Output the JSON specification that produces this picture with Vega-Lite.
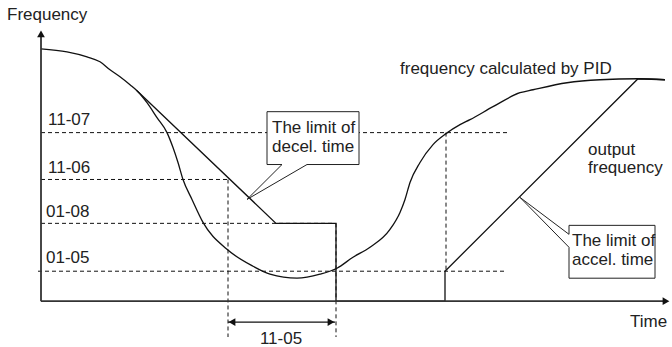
{
  "$schema": "https://vega.github.io/schema/vega-lite/v6.json",
  "width": 672,
  "height": 347,
  "autosize": {"type": "fit", "contains": "padding"},
  "padding": 0,
  "background": "white",
  "config": {"view": {"stroke": null}, "text": {"font": "Liberation Sans", "fontSize": 17, "color": "#222"}},
  "datasets": {
    "dashed": [
      {"t": 0, "f": 169, "t2": 467, "f2": 169},
      {"t": 0, "f": 122, "t2": 187, "f2": 122},
      {"t": 0, "f": 78, "t2": 294, "f2": 78},
      {"t": -3, "f": 30, "t2": 465, "f2": 30},
      {"t": 187, "f": 122, "t2": 187, "f2": -36},
      {"t": 295, "f": 78, "t2": 295, "f2": -36},
      {"t": 405, "f": 169, "t2": 405, "f2": 30}
    ],
    "pid": [
      {"i": 0, "t": 0, "f": 253}, {"i": 1, "t": 26, "f": 250}, {"i": 2, "t": 46, "f": 245},
      {"i": 3, "t": 59, "f": 240}, {"i": 4, "t": 69, "f": 232}, {"i": 5, "t": 79, "f": 225},
      {"i": 6, "t": 89, "f": 217}, {"i": 7, "t": 96, "f": 211}, {"i": 8, "t": 106, "f": 199},
      {"i": 9, "t": 116, "f": 184}, {"i": 10, "t": 126, "f": 169}, {"i": 11, "t": 132, "f": 154},
      {"i": 12, "t": 137, "f": 139}, {"i": 13, "t": 142, "f": 122}, {"i": 14, "t": 151, "f": 102},
      {"i": 15, "t": 162, "f": 79}, {"i": 16, "t": 186, "f": 52}, {"i": 17, "t": 212, "f": 35},
      {"i": 18, "t": 229, "f": 27}, {"i": 19, "t": 256, "f": 23}, {"i": 20, "t": 279, "f": 27},
      {"i": 21, "t": 296, "f": 33}, {"i": 22, "t": 312, "f": 44}, {"i": 23, "t": 329, "f": 54},
      {"i": 24, "t": 349, "f": 72}, {"i": 25, "t": 359, "f": 89}, {"i": 26, "t": 364, "f": 102},
      {"i": 27, "t": 369, "f": 119}, {"i": 28, "t": 379, "f": 139}, {"i": 29, "t": 392, "f": 157},
      {"i": 30, "t": 405, "f": 168}, {"i": 31, "t": 419, "f": 177}, {"i": 32, "t": 429, "f": 182},
      {"i": 33, "t": 452, "f": 195}, {"i": 34, "t": 479, "f": 209}, {"i": 35, "t": 492, "f": 212},
      {"i": 36, "t": 526, "f": 219}, {"i": 37, "t": 559, "f": 222}, {"i": 38, "t": 597, "f": 223},
      {"i": 39, "t": 624, "f": 222}
    ],
    "output": [
      {"i": 0, "t": 96, "f": 211}, {"i": 1, "t": 235, "f": 78}, {"i": 2, "t": 295, "f": 78},
      {"i": 3, "t": 295, "f": 0}, {"i": 4, "t": 404, "f": 0}, {"i": 5, "t": 404, "f": 30},
      {"i": 6, "t": 597, "f": 223}, {"i": 7, "t": 624, "f": 222}
    ],
    "boxes": [
      {"box": "decel", "t": 226, "f": 137, "t2": 318, "f2": 190},
      {"box": "accel", "t": 528, "f": 23, "t2": 614, "f2": 76}
    ],
    "outlines": [
      {"box": "decel", "i": 0, "t": 226, "f": 137}, {"box": "decel", "i": 1, "t": 241, "f": 137},
      {"box": "decel", "i": 2, "t": 206, "f": 102}, {"box": "decel", "i": 3, "t": 266, "f": 137},
      {"box": "decel", "i": 4, "t": 318, "f": 137}, {"box": "decel", "i": 5, "t": 318, "f": 190},
      {"box": "decel", "i": 6, "t": 226, "f": 190}, {"box": "decel", "i": 7, "t": 226, "f": 137},
      {"box": "accel", "i": 0, "t": 528, "f": 76}, {"box": "accel", "i": 1, "t": 528, "f": 67},
      {"box": "accel", "i": 2, "t": 479, "f": 104}, {"box": "accel", "i": 3, "t": 528, "f": 54},
      {"box": "accel", "i": 4, "t": 528, "f": 23}, {"box": "accel", "i": 5, "t": 614, "f": 23},
      {"box": "accel", "i": 6, "t": 614, "f": 76}, {"box": "accel", "i": 7, "t": 528, "f": 76}
    ],
    "axes": [
      {"axis": "y", "t": 0, "f": 0, "t2": 0, "f2": 268},
      {"axis": "x", "t": 0, "f": 0, "t2": 626, "f2": 0}
    ],
    "dim": [
      {"t": 187, "f": -21, "t2": 294, "f2": -21}
    ],
    "heads": [
      {"dir": "up", "t": 0, "f": 268},
      {"dir": "right", "t": 625, "f": 0},
      {"dir": "left", "t": 191, "f": -21},
      {"dir": "right", "t": 290, "f": -21}
    ],
    "labels": [
      {"label": "Frequency", "t": -34, "f": 287},
      {"label": "Time", "t": 589, "f": -21},
      {"label": "11-07", "t": 7, "f": 182},
      {"label": "11-06", "t": 7, "f": 134},
      {"label": "01-08", "t": 5, "f": 89},
      {"label": "01-05", "t": 5, "f": 43},
      {"label": "frequency calculated by PID", "t": 359, "f": 233},
      {"label": "output", "t": 547, "f": 152},
      {"label": "frequency", "t": 547, "f": 134},
      {"label": "The limit of", "t": 231, "f": 174},
      {"label": "decel. time", "t": 231, "f": 155},
      {"label": "The limit of", "t": 531, "f": 60},
      {"label": "accel. time", "t": 531, "f": 41}
    ],
    "centered": [
      {"label": "11-05", "t": 240, "f": -38}
    ]
  },
  "encoding": {
    "x": {"field": "t", "type": "quantitative", "scale": {"domain": [-41, 631], "nice": false, "zero": false}, "axis": null},
    "y": {"field": "f", "type": "quantitative", "scale": {"domain": [-45, 302], "nice": false, "zero": false}, "axis": null}
  },
  "layer": [
    {
      "data": {"name": "dashed"},
      "mark": {"type": "rule", "strokeDash": [4, 3], "strokeWidth": 1, "color": "#111"},
      "encoding": {"x2": {"field": "t2"}, "y2": {"field": "f2"}}
    },
    {
      "data": {"name": "pid"},
      "mark": {"type": "line", "interpolate": "monotone", "strokeWidth": 1.3, "color": "#111"},
      "encoding": {"order": {"field": "i"}}
    },
    {
      "data": {"name": "output"},
      "mark": {"type": "line", "strokeWidth": 1.3, "color": "#111"},
      "encoding": {"order": {"field": "i"}}
    },
    {
      "data": {"name": "boxes"},
      "mark": {"type": "rect", "fill": "white", "stroke": null},
      "encoding": {"x2": {"field": "t2"}, "y2": {"field": "f2"}}
    },
    {
      "data": {"name": "outlines"},
      "mark": {"type": "line", "strokeWidth": 1, "color": "#222"},
      "encoding": {"order": {"field": "i"}, "detail": {"field": "box"}}
    },
    {
      "data": {"name": "axes"},
      "mark": {"type": "rule", "strokeWidth": 1.8, "color": "#333"},
      "encoding": {"x2": {"field": "t2"}, "y2": {"field": "f2"}}
    },
    {
      "data": {"name": "dim"},
      "mark": {"type": "rule", "strokeWidth": 1.3, "color": "#111"},
      "encoding": {"x2": {"field": "t2"}, "y2": {"field": "f2"}}
    },
    {
      "data": {"name": "heads"},
      "mark": {"type": "point", "filled": true, "size": 60, "color": "#111", "opacity": 1},
      "encoding": {
        "shape": {"field": "dir", "type": "nominal", "scale": {"domain": ["up", "right", "left"], "range": ["triangle-up", "triangle-right", "triangle-left"]}, "legend": null}
      }
    },
    {
      "data": {"name": "labels"},
      "mark": {"type": "text", "align": "left", "baseline": "middle"},
      "encoding": {"text": {"field": "label"}}
    },
    {
      "data": {"name": "centered"},
      "mark": {"type": "text", "align": "center", "baseline": "middle"},
      "encoding": {"text": {"field": "label"}}
    }
  ]
}
